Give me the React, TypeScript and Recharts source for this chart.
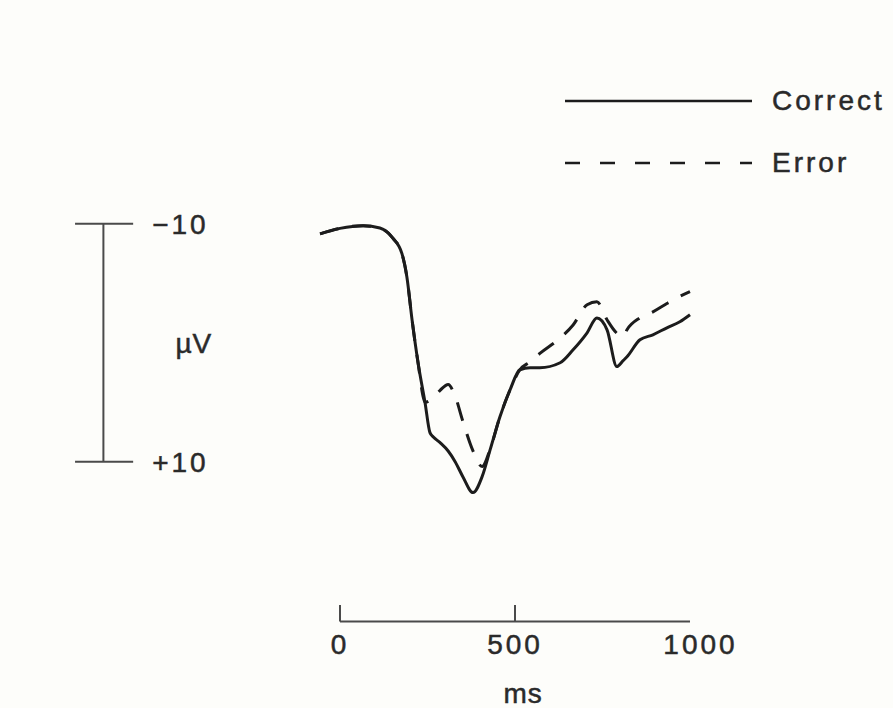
import React from 'react'
import { LineChart, Line, XAxis, YAxis, ReferenceLine, ReferenceDot, Legend } from 'recharts'

// ERP grand averages, correct vs error trials. Amplitude in µV, negative plotted up.
const TIMES = [
  -57, 0, 66, 114, 151, 177, 191, 206, 223, 243, 257, 266, 286, 309, 329, 351, 380, 406, 429,
  457, 486, 514, 543, 571, 629, 666, 706, 734, 763, 791, 809, 820, 857, 894, 934, 971, 1000
]
const CORRECT = [
  -9.16, -9.62, -9.85, -9.65, -8.8, -7.5, -5.56, -1.9, 1.68, 5.04, 7.56, 7.9, 8.4, 9.1, 10.0, 11.26,
  12.6, 11.26, 8.99, 6.22, 3.95, 2.27, 2.1, 2.1, 1.68, 0.59, -0.84, -2.08, -1.09, 2.0, 1.5, 1.18,
  -0.25, -0.67, -1.26, -1.76, -2.35
]
const ERROR = [
  -9.16, -9.62, -9.85, -9.65, -8.8, -7.5, -5.56, -1.9, 1.68, 5.0, 4.85, 4.6, 4.0, 3.5, 4.5, 6.6,
  9.1, 10.4, 8.95, 6.22, 3.95, 2.27, 1.6, 0.9, -0.4, -1.5, -3.2, -3.45, -1.93, -0.8, -0.5, -1.1,
  -2.1, -2.6, -3.3, -3.9, -4.3
]

const SERIES = [
  { key: 'correct', name: 'Correct', dash: undefined, legendDash: undefined },
  { key: 'error', name: 'Error', dash: '19 14', legendDash: '15 20' }
] as const

// scale bars
const UV_TICKS = [-10, 10]
const UV_LABELS = ['\u221210', '+10']
const MS_TICKS = [0, 500]
const MS_LABELS = ['0', '500', '1000']
const MS_LABEL_AT = [0, 500, 1030]

const data = TIMES.map((t, i) => ({ t, correct: CORRECT[i], error: ERROR[i] }))

const INK = '#1c1c1c'
const BAR = '#4a4a4a'
const TEXT = '#2a2a2a'
const FONT = '"Liberation Sans", Arial, Helvetica, sans-serif'
const TXT = {
  fill: TEXT,
  stroke: TEXT,
  strokeWidth: 0.5,
  fontSize: 28,
  fontFamily: FONT,
  letterSpacing: 3
}

// where the scale bars sit, in data units
const UV_BAR_X = -676
const UV_TICK_X: [number, number] = [-757, -591]
const MS_BAR_Y = 23.45
const MS_TICK_TOP = 22.05
const MS_LABEL_Y = 23.45
const MS_TITLE = { x: 523, y: 29.45 }

function LegendBox(): React.JSX.Element {
  return (
    <div style={{ fontFamily: FONT, color: TEXT }}>
      {SERIES.map((s) => (
        <div key={s.key} style={{ display: 'flex', alignItems: 'center', height: 62 }}>
          <svg width={187} height={6} style={{ display: 'block' }}>
            <line x1={0} y1={3} x2={187} y2={3} stroke={INK} strokeWidth={2.5} strokeDasharray={s.legendDash} />
          </svg>
          <span
            style={{
              marginLeft: 20,
              fontSize: 28,
              letterSpacing: 3,
              lineHeight: 1,
              WebkitTextStroke: `0.5px ${TEXT}`
            }}
          >
            {s.name}
          </span>
        </div>
      ))}
    </div>
  )
}

export default function App(): React.JSX.Element {
  return (
    <div style={{ position: 'absolute', left: 0, top: 0, width: 893, height: 708, background: '#fdfdfa' }}>
      <LineChart width={893} height={708} data={data} margin={{ top: 152.5, right: 63, bottom: 8.5, left: 60 }}>
        <XAxis type="number" dataKey="t" domain={[-800, 1400]} hide />
        <YAxis type="number" domain={[-16, 30]} reversed hide />
        <Legend
          layout="horizontal"
          verticalAlign="middle"
          align="center"
          wrapperStyle={{ left: 565, top: 70, width: 328, height: 124 }}
          content={() => <LegendBox />}
        />

        <ReferenceLine
          segment={[{ x: UV_BAR_X, y: UV_TICKS[0] }, { x: UV_BAR_X, y: UV_TICKS[1] }]}
          stroke={BAR}
          strokeWidth={2}
          label={{ value: '\u00b5V', position: 'right', offset: 72, ...TXT, letterSpacing: 1 }}
        />
        {UV_TICKS.map((v, i) => (
          <ReferenceLine
            key={'uv' + v}
            segment={[{ x: UV_TICK_X[0], y: v }, { x: UV_TICK_X[1], y: v }]}
            stroke={BAR}
            strokeWidth={2}
            label={{ value: UV_LABELS[i], position: 'right', offset: 19, ...TXT }}
          />
        ))}

        <ReferenceLine
          segment={[{ x: 0, y: MS_BAR_Y }, { x: 1000, y: MS_BAR_Y }]}
          stroke={BAR}
          strokeWidth={2}
        />
        {MS_TICKS.map((t) => (
          <ReferenceLine
            key={'ms' + t}
            segment={[{ x: t, y: MS_TICK_TOP }, { x: t, y: MS_BAR_Y }]}
            stroke={BAR}
            strokeWidth={2}
          />
        ))}
        {MS_LABELS.map((l, i) => (
          <ReferenceDot
            key={'lab' + l}
            x={MS_LABEL_AT[i]}
            y={MS_LABEL_Y}
            r={0}
            fill="none"
            stroke="none"
            label={{ value: l, position: 'bottom', offset: 12.5, ...TXT }}
          />
        ))}
        <ReferenceDot
          x={MS_TITLE.x}
          y={MS_TITLE.y}
          r={0}
          fill="none"
          stroke="none"
          label={{ value: 'ms', position: 'center', ...TXT, letterSpacing: 1 }}
        />

        {SERIES.map((s) => (
          <Line
            key={s.key}
            type="monotone"
            dataKey={s.key}
            name={s.name}
            stroke={INK}
            strokeWidth={3}
            strokeDasharray={s.dash}
            dot={false}
            activeDot={false}
            isAnimationActive={false}
          />
        ))}
      </LineChart>
    </div>
  )
}
